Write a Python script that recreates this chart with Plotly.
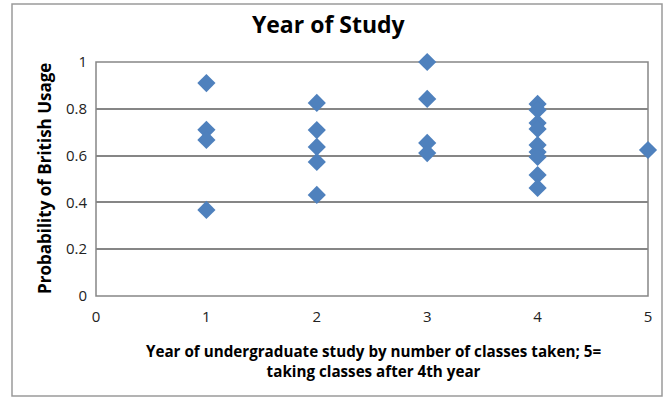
import plotly.graph_objects as go

# Year of study (5 = taking classes after 4th year) and probability of British usage
year = [1, 1, 1, 1,
        2, 2, 2, 2, 2,
        3, 3, 3, 3,
        4, 4, 4, 4, 4, 4, 4, 4, 4,
        5]
prob = [0.91, 0.71, 0.667, 0.368,
        0.825, 0.709, 0.637, 0.573, 0.432,
        1.0, 0.842, 0.654, 0.611,
        0.821, 0.795, 0.739, 0.714, 0.645, 0.615, 0.594, 0.517, 0.462,
        0.624]

W, H = 670, 399
L, R, T, B = 96, 648, 62, 296  # plot area in pixels
FONT = "Open Sans, Calibri, Arial, sans-serif"

fig = go.Figure(go.Scatter(
    x=year, y=prob, mode="markers",
    marker=dict(symbol="diamond", size=14, color="#4F81BD",
                line=dict(width=0)),
    cliponaxis=False, showlegend=False,
))

def px_to_paper_x(px):
    return (px - L) / (R - L)

def px_to_paper_y(py):
    return (B - py) / (B - T)

fig.update_layout(
    width=W, height=H,
    margin=dict(l=L, r=W - R, t=T, b=H - B),
    paper_bgcolor="white", plot_bgcolor="white",
    font=dict(family=FONT, color="#000000", size=14),
    title=dict(text="<b>Year of Study</b>", x=0.49, xanchor="center",
               y=1 - 25 / H, yanchor="middle",
               font=dict(size=23, family=FONT, color="#000000")),
    xaxis=dict(range=[0, 5], dtick=1, tick0=0, showgrid=False,
               zeroline=False, showline=False, ticks="",
               ticklabelstandoff=10,
               tickfont=dict(size=15, color="#222222")),
    yaxis=dict(range=[0, 1], dtick=0.2, tick0=0, showgrid=True,
               gridcolor="#868686", gridwidth=1.5, zeroline=False,
               showline=False, ticks="", ticklabelstandoff=8,
               tickfont=dict(size=15, color="#222222")),
    shapes=[
        # plot-area frame
        dict(type="rect", xref="paper", yref="paper", x0=0, x1=1, y0=0, y1=1,
             line=dict(color="#868686", width=1.5), layer="below"),
        # outer chart border
        dict(type="rect", xref="paper", yref="paper",
             x0=px_to_paper_x(12), x1=px_to_paper_x(662),
             y0=px_to_paper_y(396), y1=px_to_paper_y(4),
             line=dict(color="#9a9a9a", width=1.5)),
    ],
    annotations=[
        dict(text="<b>Probability of British Usage</b>", textangle=-90,
             xref="paper", yref="paper", x=px_to_paper_x(44), y=0.5,
             xanchor="center", yanchor="middle", showarrow=False,
             font=dict(size=17, family=FONT)),
        dict(text="<b>Year of undergraduate study by number of classes taken; 5=<br>taking classes after 4th year</b>",
             xref="paper", yref="paper", x=px_to_paper_x(373),
             y=px_to_paper_y(361), xanchor="center", yanchor="middle",
             showarrow=False, align="center",
             font=dict(size=15.2, family=FONT)),
    ],
)

fig.write_html("out.html")
